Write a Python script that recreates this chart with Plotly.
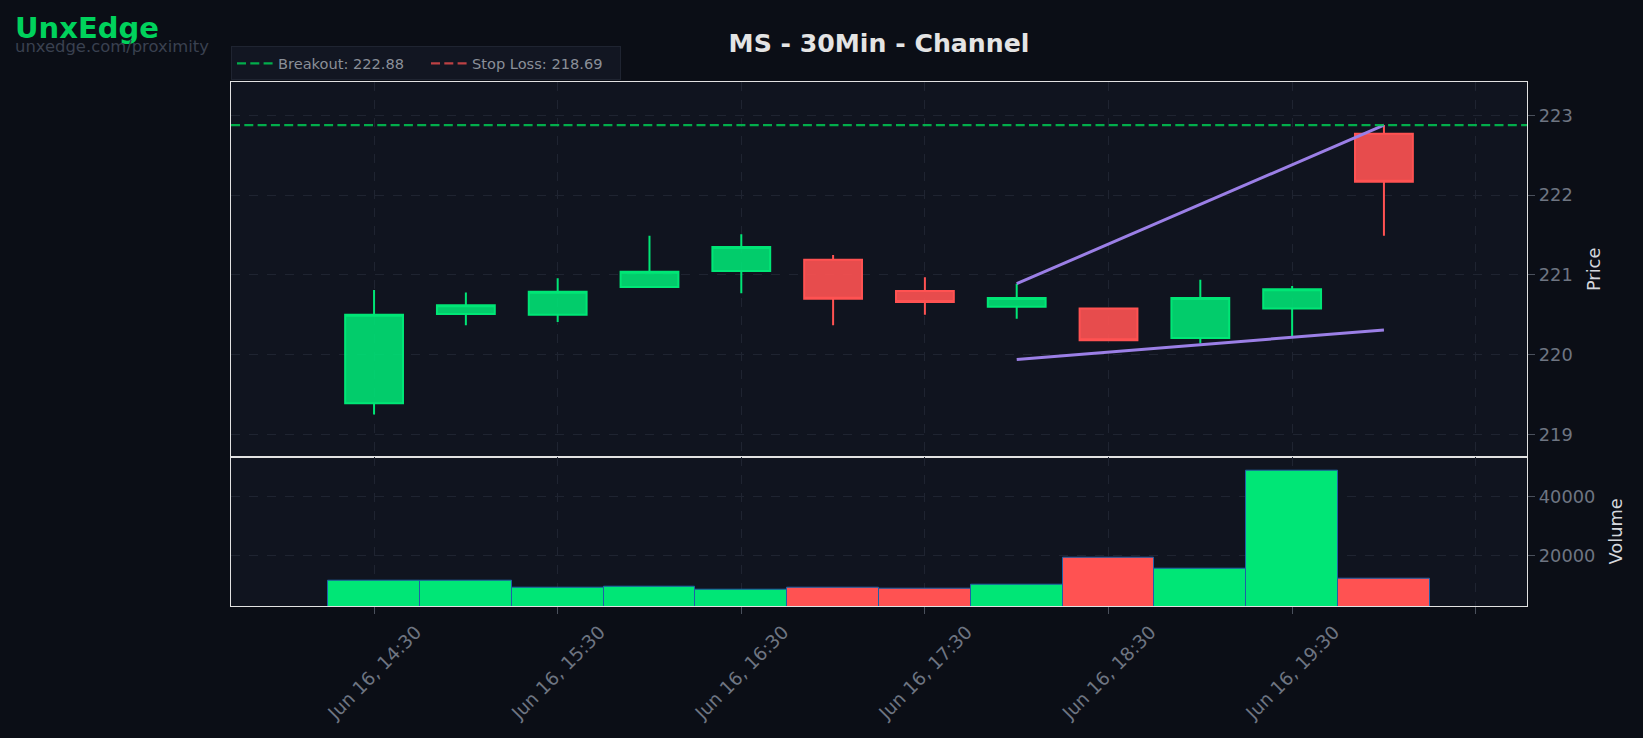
import pandas as pd
import plotly.graph_objects as go

# ---------------- data ----------------
times = pd.date_range("2025-06-16 14:30", periods=12, freq="30min")
opens = [219.39, 220.51, 220.50, 220.85, 221.05, 221.19, 220.80, 220.60, 220.58, 220.21, 220.58, 222.77]
highs = [220.81, 220.78, 220.96, 221.49, 221.51, 221.25, 220.97, 220.89, 220.58, 220.94, 220.86, 222.88]
lows = [219.25, 220.37, 220.41, 220.85, 220.77, 220.37, 220.50, 220.45, 220.17, 220.14, 220.22, 221.49]
closes = [220.50, 220.62, 220.79, 221.04, 221.35, 220.70, 220.66, 220.71, 220.18, 220.71, 220.82, 222.17]
volumes = [11450, 11400, 9050, 9490, 8370, 9050, 8710, 10070, 19220, 15490, 48710, 12100]

upper_x = [times[7], times[11]]
upper_y = [220.89, 222.88]
lower_x = [times[7], times[11]]
lower_y = [219.94, 220.31]

breakout = 222.88
stop_loss = 218.69

tick_times = pd.date_range("2025-06-16 14:30", periods=7, freq="60min")
tick_labels = ["Jun 16, 14:30", "Jun 16, 15:30", "Jun 16, 16:30", "Jun 16, 17:30",
               "Jun 16, 18:30", "Jun 16, 19:30", ""]

# ---------------- styling ----------------
FONT = "DejaVu Sans"
PAPER = "#0b0e16"
PLOT = "#10141f"
GRID = "#1f2431"
AXLINE = "#e2e2e2"
TICKC = "#6e7582"
GREEN = "#00e676"
RED = "#ff5252"
DASH = "9px,4.3px"

pad = pd.Timedelta(minutes=46.75)
x0, x1 = times[0] - pad, times[-1] + pad

fig = go.Figure()

fig.add_trace(go.Candlestick(
    x=times, open=opens, high=highs, low=lows, close=closes,
    increasing=dict(line=dict(color=GREEN, width=2), fillcolor="rgba(0,230,118,0.88)"),
    decreasing=dict(line=dict(color=RED, width=2), fillcolor="rgba(255,82,82,0.9)"),
    showlegend=False, xaxis="x", yaxis="y", name="MS"))

fig.add_trace(go.Scatter(x=upper_x, y=upper_y, mode="lines",
                         line=dict(color="#9b7fe6", width=3), showlegend=False,
                         xaxis="x", yaxis="y"))
fig.add_trace(go.Scatter(x=lower_x, y=lower_y, mode="lines",
                         line=dict(color="#9b7fe6", width=3), showlegend=False,
                         xaxis="x", yaxis="y"))

fig.add_trace(go.Scatter(x=[x0, x1], y=[breakout, breakout], mode="lines",
                         line=dict(color="#00c853", width=2.2, dash=DASH), opacity=0.85,
                         name=f"Breakout: {breakout:.2f}", xaxis="x", yaxis="y"))
fig.add_trace(go.Scatter(x=[x0, x1], y=[stop_loss, stop_loss], mode="lines",
                         line=dict(color=RED, width=2.2, dash=DASH), opacity=0.72,
                         name=f"Stop Loss: {stop_loss:.2f}", xaxis="x", yaxis="y"))

vol_colors = [GREEN if c >= o else RED for o, c in zip(opens, closes)]
fig.add_trace(go.Bar(x=times, y=volumes, marker=dict(color=vol_colors,
                     line=dict(color="#1f5fa8", width=1)),
                     showlegend=False, xaxis="x2", yaxis="y2"))

axis_common = dict(showgrid=True, gridcolor=GRID, griddash="dash", gridwidth=1,
                   showline=True, linecolor=AXLINE, linewidth=1.4, mirror=True,
                   zeroline=False)

fig.update_layout(
    width=1643, height=738,
    paper_bgcolor=PAPER, plot_bgcolor=PLOT,
    margin=dict(l=231, r=116, t=82, b=132),
    font=dict(family=FONT, color=TICKC, size=17.8),
    title=dict(text="<b>MS - 30Min - Channel</b>", x=0.5, xref="paper",
               y=1 - 43 / 738, yref="container", yanchor="middle", xanchor="center",
               font=dict(family=FONT, size=25.2, color="#e4e4e4")),
    bargap=0,
    boxgap=0.1, boxgroupgap=0.3,
    showlegend=True,
    legend=dict(orientation="h", x=0, xanchor="left", y=1.003, yanchor="bottom",
                bgcolor="#121622", bordercolor="#1f2431", borderwidth=1,
                itemwidth=36, entrywidth=143, entrywidthmode="pixels",
                font=dict(family=FONT, size=14.6, color="#8a8f98")),
    xaxis=dict(domain=[0, 1], anchor="y", range=[x0, x1], showticklabels=False,
               ticks="", rangeslider=dict(visible=False),
               tickvals=tick_times, **axis_common),
    xaxis2=dict(domain=[0, 1], anchor="y2", range=[x0, x1], matches="x",
                tickvals=tick_times, ticktext=tick_labels, tickangle=-45,
                ticklabelshift=42,
                ticks="outside", ticklen=7, tickcolor="#4a505c", tickwidth=1.4,
                tickfont=dict(family=FONT, size=18.4, color=TICKC), **axis_common),
    yaxis=dict(domain=[0.2849, 1], anchor="x", side="right", range=[218.72, 223.42],
               dtick=1, tick0=0, ticks="outside", ticklen=7, tickcolor="#4a505c",
               tickwidth=1.4, tickfont=dict(family=FONT, size=17.8, color=TICKC),
               title=dict(text="Price", font=dict(family=FONT, size=17.8, color="#d4d7dd")),
               **axis_common),
    yaxis2=dict(domain=[0, 0.2849], anchor="x2", side="right", range=[2950, 53580],
                dtick=20000, tick0=0, tickformat="d", ticks="outside", ticklen=7,
                tickcolor="#4a505c", tickwidth=1.4,
                tickfont=dict(family=FONT, size=17.8, color=TICKC),
                title=dict(text="Volume", font=dict(family=FONT, size=17.8, color="#d4d7dd")),
                **axis_common),
    annotations=[
        dict(text="<b>UnxEdge</b>", xref="paper", yref="paper",
             x=(13 - 231) / 1296, y=(606 - 28.5) / 524, xanchor="left", yanchor="middle",
             showarrow=False, font=dict(family=FONT, size=29, color="#00d25c")),
        dict(text="unxedge.com/proximity", xref="paper", yref="paper",
             x=(13 - 231) / 1296, y=(606 - 46.6) / 524, xanchor="left", yanchor="middle",
             showarrow=False, font=dict(family=FONT, size=16.4, color="#3a4150")),
    ],
)

fig.write_html("out.html")
